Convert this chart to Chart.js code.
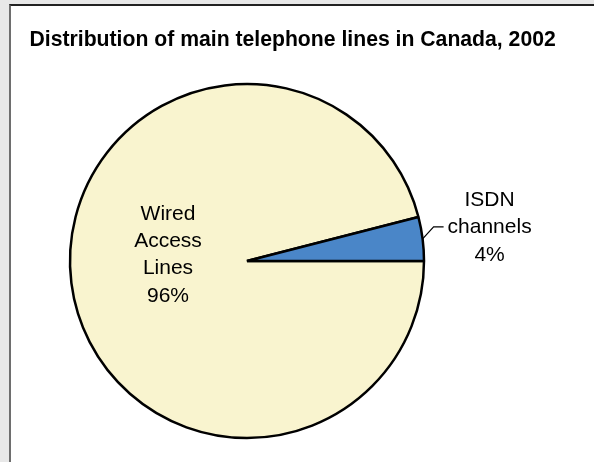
<!DOCTYPE html>
<html>
<head>
<meta charset="utf-8">
<title>Main telephone lines in Canada, 2002</title>
<script src="https://cdn.jsdelivr.net/npm/chart.js@4"></script>
<style>
  html, body { margin: 0; padding: 0; }
  body { width: 594px; height: 462px; background: #e8e8e8; position: relative; overflow: hidden; }
  .frame {
    position: absolute; left: 9px; top: 4px; width: 700px; height: 600px;
    background: #fff; border-top: 2px solid #222; border-left: 2px solid #6e6e6e;
  }
  #pie { position: absolute; left: 0; top: 0; }
</style>
</head>
<body>
<div class="frame"></div>
<canvas id="pie" width="594" height="462"></canvas>
<script>
const TITLE = 'Distribution of main telephone lines in Canada, 2002';
const categories = [['Wired', 'Access', 'Lines'], ['ISDN', 'channels']];
const shares = [96, 4];
const colors = ['#f9f4cf', '#4a86c8'];

const FONT = '"Liberation Sans", Arial, sans-serif';
const LINE_H = 27.4;

// title + slice labels (inside for the big slice, outside with a leader for the small one)
const pieLabels = {
  id: 'pieLabels',
  afterDraw(chart) {
    const ctx = chart.ctx;
    ctx.save();
    ctx.fillStyle = '#000';
    ctx.font = 'bold 21.2px ' + FONT;
    ctx.textAlign = 'left';
    ctx.textBaseline = 'alphabetic';
    ctx.fillText(TITLE, 29.5, 46);

    ctx.font = '21px ' + FONT;
    ctx.textAlign = 'center';
    ctx.textBaseline = 'middle';
    const arcs = chart.getDatasetMeta(0).data;
    arcs.forEach((arc, i) => {
      const lines = categories[i].concat(shares[i] + '%');
      const mid = (arc.startAngle + arc.endAngle) / 2;
      const r = arc.outerRadius;
      if (shares[i] > 10) {
        const cx = arc.x + Math.cos(mid) * r * 0.45;
        const cy = arc.y + Math.sin(mid) * r * 0.45 - 16;
        const top = cy - (lines.length - 1) * LINE_H / 2;
        lines.forEach((t, k) => ctx.fillText(t, cx, top + k * LINE_H));
      } else {
        const ex = arc.x + Math.cos(mid) * r;
        const ey = arc.y + Math.sin(mid) * r;
        const kx = ex + 11, ky = ey - 12;
        ctx.strokeStyle = '#000';
        ctx.lineWidth = 1.2;
        ctx.beginPath();
        ctx.moveTo(ex, ey);
        ctx.lineTo(kx, ky);
        ctx.lineTo(kx + 10, ky);
        ctx.stroke();
        const cx = kx + 56;
        const top = ky - LINE_H + 0.5;
        lines.forEach((t, k) => ctx.fillText(t, cx, top + k * LINE_H));
      }
    });
    ctx.restore();
  }
};

new Chart(document.getElementById('pie'), {
  type: 'pie',
  data: {
    labels: categories.map(c => c.join(' ')),
    datasets: [{
      data: shares,
      backgroundColor: colors,
      borderColor: '#000',
      borderWidth: 2.5,
      hoverOffset: 0,
    }],
  },
  options: {
    responsive: false,
    animation: false,
    events: [],
    rotation: 90,
    radius: 177,
    layout: { padding: { left: 60, right: 160, top: 80, bottom: 20 } },
    plugins: {
      legend: { display: false },
      tooltip: { enabled: false },
      title: { display: false },
    },
  },
  plugins: [pieLabels],
});
</script>
</body>
</html>
